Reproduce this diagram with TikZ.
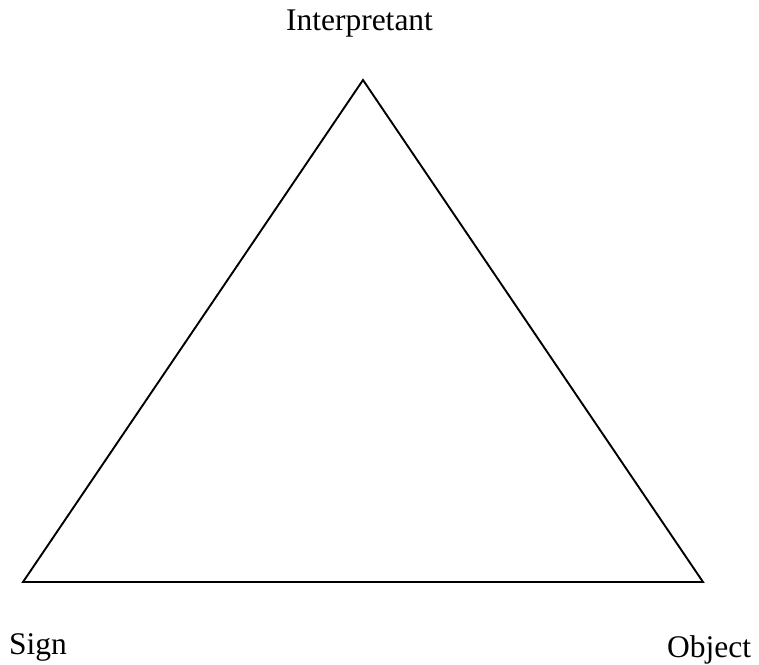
\documentclass[tikz,border=0pt]{standalone}
\usepackage{fontspec}
\setmainfont{Liberation Serif}
\begin{document}
\begin{tikzpicture}[x=1bp,y=-1bp,
  lbl/.style={inner sep=0pt,font=\fontsize{31.5bp}{36bp}\selectfont},
  edge/.style={line width=1.9bp,line join=miter}]
\useasboundingbox (0,0) rectangle (759,665);
% vertices of the semiotic triangle
\coordinate (I) at (363,80);
\coordinate (S) at (23,582);
\coordinate (O) at (703,582);
\draw[edge] (I) -- (S) -- (O) -- cycle;
% labels
\node[lbl,anchor=base] (lI) at (359.5,31) {Interpretant};
\node[lbl,anchor=base west] (lS) at (9,654) {Sign};
\node[lbl,anchor=base west] (lO) at (667,657) {Object};
\end{tikzpicture}
\end{document}
